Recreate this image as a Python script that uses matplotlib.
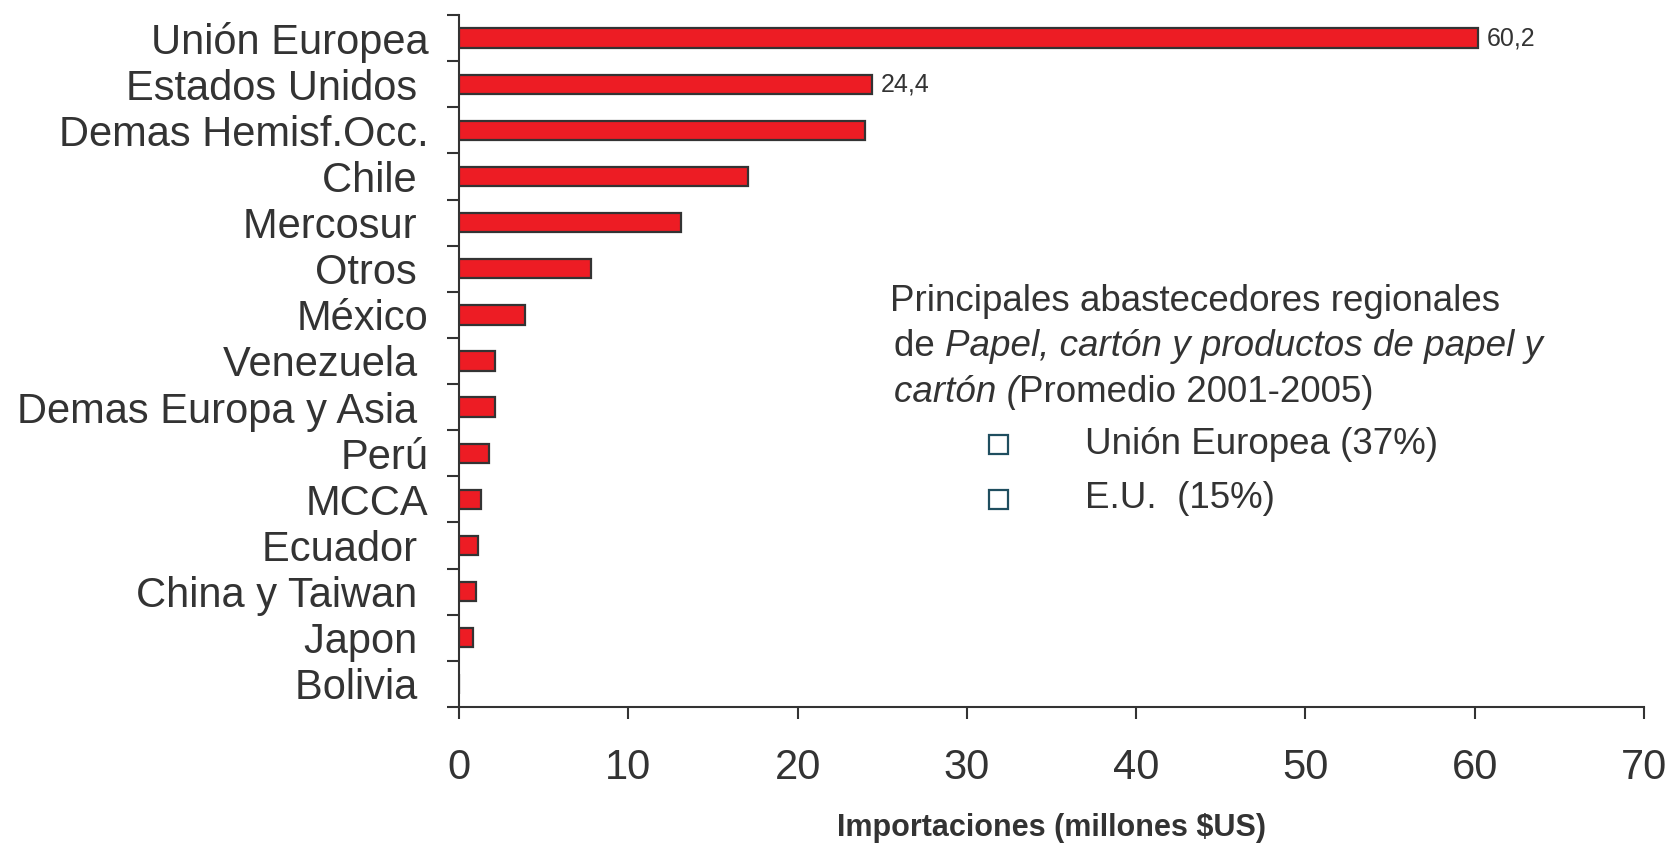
import matplotlib
matplotlib.use("Agg")
import matplotlib.pyplot as plt
from matplotlib.patches import Rectangle

plt.rcParams["font.family"] = ["Liberation Sans", "DejaVu Sans"]

TXT = "#333333"
RED = "#ED1C24"
EDGE = "#333333"

# data
categories = ["Unión Europea", "Estados Unidos ", "Demas Hemisf.Occ.", "Chile ",
              "Mercosur ", "Otros ", "México", "Venezuela ", "Demas Europa y Asia ",
              "Perú", "MCCA", "Ecuador ", "China y Taiwan ", "Japon ", "Bolivia "]
values = [60.2, 24.4, 24.0, 17.1, 13.1, 7.8, 3.9, 2.1, 2.1, 1.8, 1.3, 1.1, 1.0, 0.8, 0.0]
labelled = {0: "60,2", 1: "24,4"}
xticks = [0, 10, 20, 30, 40, 50, 60, 70]

title_lines = [
    [("Principales abastecedores regionales", "normal")],
    [("de ", "normal"), ("Papel, cartón y productos de papel y", "italic")],
    [("cartón (", "italic"), ("Promedio 2001-2005)", "normal")],
]
legend_items = ["Unión Europea (37%)", "E.U.  (15%)"]

W, H = 1669, 843
fig = plt.figure(figsize=(W / 100, H / 100), dpi=100)
ax = fig.add_axes([459 / W, 1 - 707 / H, (1644 - 459) / W, (707 - 15) / H])

pos = list(range(len(categories)))
ax.barh(pos, values, height=0.42, color=RED, edgecolor=EDGE, linewidth=1.6, zorder=3)
for i, s in labelled.items():
    ax.annotate(s, (values[i], pos[i]), xytext=(6, 0), textcoords="offset points",
                va="center", ha="left", fontsize=18, color=TXT)

ax.set_ylim(len(categories) - 0.5, -0.5)
ax.set_xlim(0, 70)
ax.set_yticks(pos)
ax.set_yticklabels(categories, fontsize=30, color=TXT)
ax.set_yticks([p - 0.5 for p in pos] + [len(pos) - 0.5], minor=True)
ax.tick_params(axis="y", which="major", length=0, pad=22)
ax.tick_params(axis="y", which="minor", length=8.6, width=1.5, color=EDGE, direction="out")
ax.set_xticks(xticks)
ax.set_xticklabels([str(t) for t in xticks], fontsize=30, color=TXT)
ax.tick_params(axis="x", length=8.6, width=1.5, color=EDGE, direction="out", pad=21)
for sp in ["top", "right"]:
    ax.spines[sp].set_visible(False)
for sp in ["left", "bottom"]:
    ax.spines[sp].set_color(EDGE)
    ax.spines[sp].set_linewidth(1.5)

fig.text(1051 / W, 1 - 828 / H, "Importaciones (millones $US)", ha="center", va="center",
         fontsize=22, fontweight="bold", color=TXT)

# annotation block, built piece by piece so italic runs sit inline
renderer = fig.canvas.get_renderer()
line_x = [890, 894, 894]
line_y = [301, 347, 392]
for lx, ly, parts in zip(line_x, line_y, title_lines):
    x = lx
    for s, style in parts:
        t = fig.text(x / W, 1 - ly / H, s, ha="left", va="center", fontsize=26.5,
                     style=style, color=TXT)
        bb = t.get_window_extent(renderer)
        x += bb.width

leg_y = [444, 499]
sq = 19
for ly, s in zip(leg_y, legend_items):
    fig.patches.append(Rectangle(((998 - sq / 2) / W, 1 - (ly + sq / 2) / H), sq / W, sq / H,
                                 transform=fig.transFigure, facecolor="white",
                                 edgecolor="#1F4E5F", linewidth=1.6))
    fig.text(1085 / W, 1 - ly / H, s, ha="left", va="center", fontsize=26.5, color=TXT)

fig.savefig("out.png", dpi=100)
